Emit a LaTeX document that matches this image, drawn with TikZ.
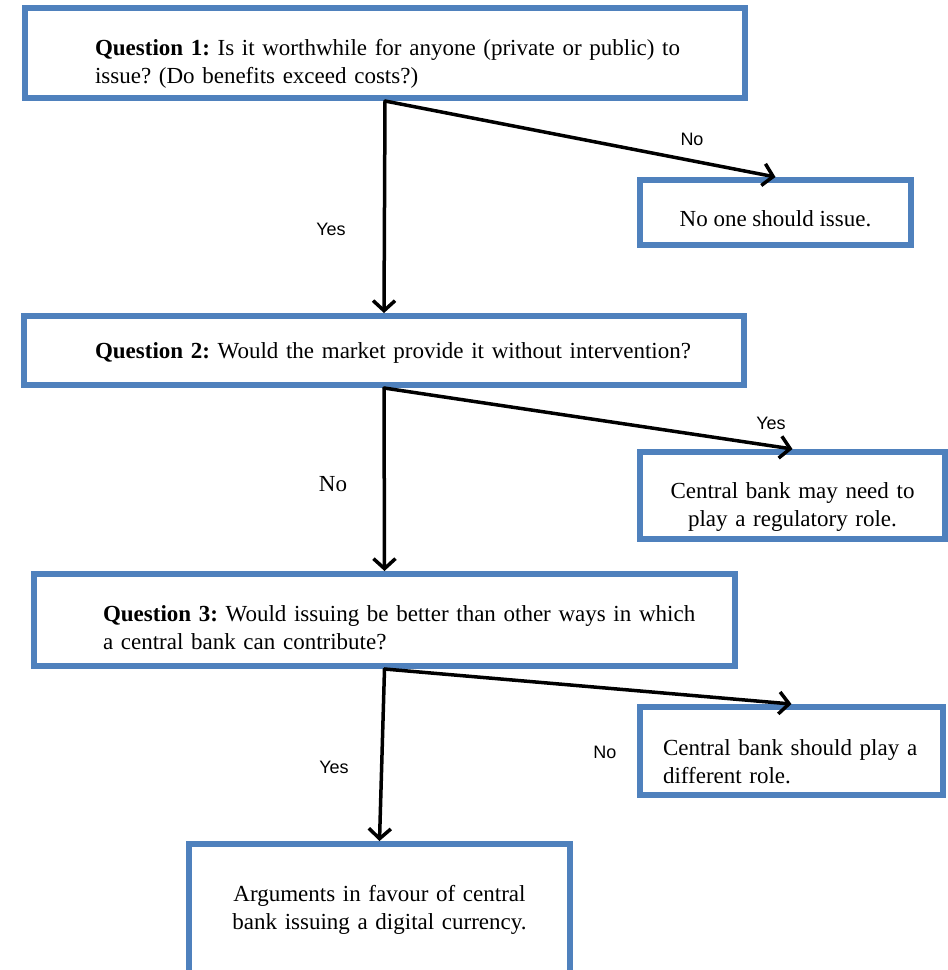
\documentclass[tikz,border=0pt]{standalone}
\usepackage{fontspec}
\setmainfont{Liberation Serif}
\newfontfamily\lblfont{Liberation Sans}
\usetikzlibrary{arrows.meta}
\definecolor{boxblue}{RGB}{79,129,189}
\frenchspacing
\begin{document}
\begin{tikzpicture}[x=1pt,y=-1pt,>={Straight Barb[length=10pt,width=22pt]}, line join=round, line cap=round]
	\tikzset{box/.style={draw=boxblue,line width=6pt,line join=miter,inner ysep=0pt,
			font=\fontsize{23}{28}\selectfont},
		tpos/.style 2 args={text height=#1pt,text depth=#2pt},
		lbl/.style={font=\lblfont\fontsize{18}{20}\selectfont},
		arr/.style={->,line width=3.5pt,black}}
	\useasboundingbox (0,0) rectangle (948,970);
	\clip (0,0) rectangle (948,970);
	% questions
	\node[box,align=left,text width=580pt,inner xsep=70pt,minimum height=90pt,tpos={20}{16}] (q1) at (385,53)
		{\mbox{\textbf{Question 1:} Is it worthwhile for anyone (private or public) to}\\
		 \mbox{issue? (Do benefits exceed costs?)}};
	\node[box,align=left,text width=578pt,inner xsep=71pt,minimum height=69pt,tpos={20}{5}] (q2) at (384,350.5)
		{\mbox{\textbf{Question 2:} Would the market provide it without intervention?}};
	\node[box,align=left,text width=563pt,inner xsep=69pt,minimum height=92pt,tpos={20}{18}] (q3) at (384.5,620)
		{\mbox{\textbf{Question 3:} Would issuing be better than other ways in which}\\
		 \mbox{a central bank can contribute?}};
	% outcomes
	\node[box,minimum width=271pt,minimum height=65pt,tpos={28}{1}] (none) at (775.5,212.5) {No one should issue.};
	\node[box,align=center,text width=285pt,inner xsep=10pt,minimum height=87pt,tpos={20}{15}] (reg) at (792.5,495.5)
		{Central bank may need to\\ play a regulatory role.};
	\node[box,align=left,text width=257pt,inner xsep=23pt,minimum height=88pt,tpos={20}{12}] (diff) at (791.5,751)
		{\mbox{Central bank should play a}\\ different role.};
	\node[box,align=center,text width=361pt,inner xsep=10pt,minimum height=136pt,tpos={20}{42}] (args) at (379.5,912)
		{Arguments in favour of central\\ bank issuing a digital currency.};
	% arrows
	\draw[arr] (q1.south) -- (q2.north);
	\draw[arr] (q1.south) -- (none.north);
	\draw[arr] (q2.south) -- (q3.north);
	\draw[arr] (q2.south) -- (reg.north);
	\draw[arr] (q3.south) -- (args.north);
	\draw[arr] (q3.south) -- (diff.north);
	% labels
	\node[lbl] (l1) at (692,139) {No};
	\node[lbl] (l2) at (331,229) {Yes};
	\node[lbl] (l3) at (771,423) {Yes};
	\node[font=\fontsize{23}{26}\selectfont] (l4) at (333,484) {No};
	\node[lbl] (l5) at (605,752) {No};
	\node[lbl] (l6) at (334,767) {Yes};
\end{tikzpicture}
\end{document}
